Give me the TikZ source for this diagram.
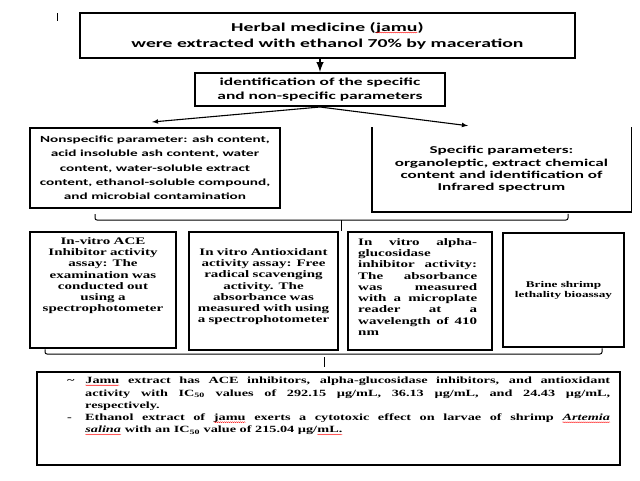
\documentclass[tikz,border=0pt]{standalone}
\usepackage{fontspec}
\usetikzlibrary{decorations.pathmorphing}
\newfontfamily\boxsans[FakeStretch=1.63]{Carlito}
\newfontfamily\boxserif[FakeStretch=1.5]{Liberation Serif}
\newcommand\spell[1]{\tikz[baseline=(w.base)]{\node[draw=none,inner sep=0pt,outer sep=0pt,
    minimum width=0pt,minimum height=0pt] (w) {#1};
  \draw[red,line width=0.35pt,decorate,decoration={snake,amplitude=0.45pt,segment length=2pt}]
    ([yshift=-1.5pt]w.base west) -- ([yshift=-1.5pt]w.base east);}}

\begin{document}
\begin{tikzpicture}[x=1pt,y=-1pt]
  \fill[white] (0,0) rectangle (640,480);
  \useasboundingbox (0,0) rectangle (640,480);
  \tikzstyle{SansBox}=[draw,line width=1.5pt,align=center,inner sep=0pt,font=\boxsans\bfseries]
  \tikzstyle{SerifBox}=[draw,line width=2.7pt,inner sep=0pt]
  \tikzstyle{SerifText}=[inner sep=0pt,font=\boxserif\bfseries\fontsize{10}{11.3}\selectfont]
  \tikzstyle{EdgeStyle}=[line width=1.1pt,->,>=latex]
  \tikzstyle{BraceStyle}=[line width=1pt,rounded corners=2pt]
  % cursor mark
  \draw[line width=0.8pt] (57,13) -- (57,21);
  % extraction and parameters
  \node[SansBox,minimum width=495pt,minimum height=45pt,
    font=\boxsans\bfseries\fontsize{12.1}{16}\selectfont] (extract) at (327.5,35.5)
    {Herbal medicine (\spell{jamu})\\were extracted with ethanol 70\% by maceration};
  \node[SansBox,line width=2pt,minimum width=250pt,minimum height=33pt,
    font=\boxsans\bfseries\fontsize{10.7}{14}\selectfont] (ident) at (320,89.5)
    {identification of the specific\\and non-specific parameters};
  \node[SansBox,line width=2pt,minimum width=250pt,minimum height=80pt,
    font=\boxsans\bfseries\fontsize{9.35}{14.3}\selectfont] (nonspec) at (155,168)
    {Nonspecific parameter: ash content,\\acid insoluble ash content, water\\content, water-soluble extract\\content, ethanol-soluble compound,\\and microbial contamination};
  \node[SansBox,draw=none,minimum width=258pt,minimum height=83pt,
    font=\boxsans\bfseries\fontsize{10.5}{12.4}\selectfont] (spec) at (501.5,169.5)
    {Specific parameters:\\organoleptic, extract chemical\\content and identification of\\Infrared spectrum};
  \draw[line width=1.5pt] (spec.north west) |- (spec.south east) -- (spec.north east);
  \draw[line width=2.4pt,->,>=latex] (ident.north |- extract.south) -- (ident.north);
  \draw[EdgeStyle] (ident.south) -- ([xshift=-3pt,yshift=5pt]nonspec.north);
  \draw[EdgeStyle] (ident.south) -- ([xshift=-33.5pt,yshift=1.5pt]spec.north);
  % assays
  \node[SerifBox,minimum width=146pt,minimum height=116pt] (ace) at (103,290) {};
  \node[SerifBox,minimum width=149pt,minimum height=118pt] (antiox) at (263.5,291) {};
  \node[SerifBox,minimum width=144pt,minimum height=118pt] (gluc) at (420,291) {};
  \node[SerifBox,minimum width=121pt,minimum height=114pt,align=center,
    font=\boxserif\bfseries\fontsize{8.8}{10}\selectfont] (brine) at (563.5,290)
    {Brine shrimp\\lethality bioassay};
  \node[SerifText,text width=146pt,align=center,anchor=north] (ace-text) at (103,237)
    {In-vitro ACE\\Inhibitor activity\\assay: The\\examination was\\conducted out\\using a\\spectrophotometer};
  \node[SerifText,text width=147pt,align=center,anchor=north] (antiox-text) at (263.5,248)
    {In vitro Antioxidant\\activity assay: Free\\radical scavenging\\activity. The\\absorbance was\\measured with using\\a spectrophotometer};
  \node[SerifText,text width=119pt,align=left,anchor=north west] (gluc-text) at (358,238)
    {In\hfill vitro\hfill alpha-\\glucosidase\\inhibitor\hfill activity:\\The\hfill absorbance\\was\hfill measured\\with\hfill a\hfill microplate\\reader\hfill at\hfill a\\wavelength\hfill of\hfill 410\\nm};
  \coordinate (join-up) at (341,220);
  \draw[BraceStyle] ([xshift=-60pt,yshift=-5pt]nonspec.south) |- (join-up) -| ([xshift=66.5pt,yshift=-2pt]spec.south);
  \draw[line width=1pt] (join-up) -- (join-up |- gluc.north);
  % result
  \node[SerifBox,line width=2.8pt,minimum width=583pt,minimum height=93pt] (result) at (328.5,418.5) {};
  \node[SerifText,anchor=north west] (result-text) at (67,377)
    {\fontsize{9.5}{12.3}\selectfont\begin{minipage}[t]{543pt}
      \hangindent=18pt\hangafter=1\noindent\makebox[18pt][l]{\textasciitilde}\spell{Jamu} extract has ACE inhibitors, alpha-glucosidase inhibitors, and antioxidant\linebreak
      activity with IC\textsubscript{50} values of 292.15 µg/mL, 36.13 µg/mL, and 24.43 µg/mL,\linebreak
      respectively.\par
      \hangindent=18pt\hangafter=1\noindent\makebox[18pt][l]{-}Ethanol extract of \spell{jamu} exerts a cytotoxic effect on larvae of shrimp \spell{\textit{Artemia}}\linebreak
      \spell{\textit{salina}} with an IC\textsubscript{50} value of 215.04 µg/\spell{mL.}\par
    \end{minipage}};
  \coordinate (join-down) at (324,354);
  \draw[BraceStyle] ([xshift=-58pt]ace.south) |- (join-down) -| ([xshift=38.5pt]brine.south);
  \draw[line width=1pt,shorten <=3pt,shorten >=4pt] (join-down) -- (join-down |- result.north);
\end{tikzpicture}
\end{document}
